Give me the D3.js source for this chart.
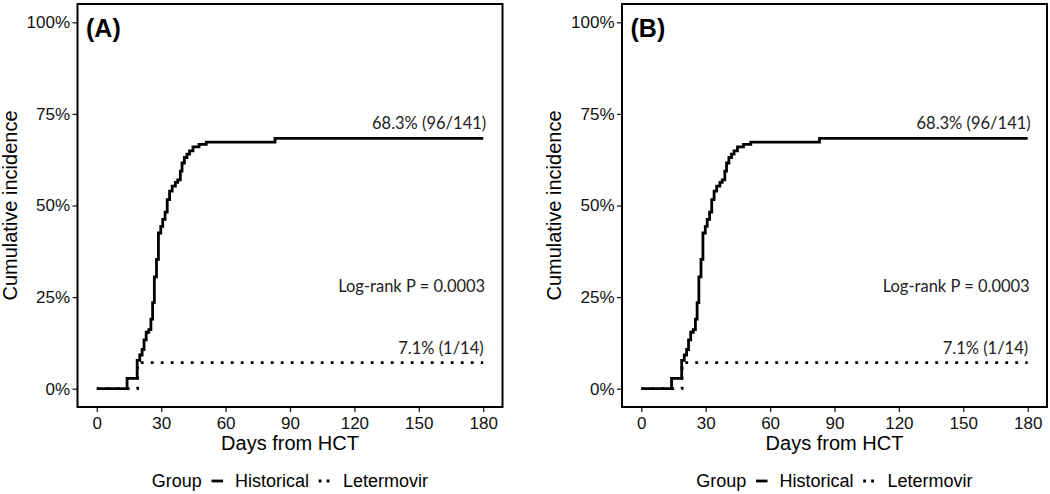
<!DOCTYPE html>
<html><head><meta charset="utf-8">
<script src="https://cdn.jsdelivr.net/npm/d3@7/dist/d3.min.js"></script>
<style>body{margin:0;background:#fff}svg{display:block}</style>
</head><body><svg id="c" width="1050" height="494"></svg>
<script>
// ---- data ----
const panels = ["(A)", "(B)"];
const xTicks = [0, 30, 60, 90, 120, 150, 180];
const yTicks = [0, 0.25, 0.5, 0.75, 1];
const yTickLabels = ["0%", "25%", "50%", "75%", "100%"];
const historicalDays = [0, 14.1, 18.8, 20.0, 21.1, 22.0, 23.0, 24.2, 25.2, 26.0, 26.8, 27.8, 28.7, 29.8, 30.7, 31.8, 32.8, 33.9, 35.1, 36.6, 37.7, 38.9, 39.7, 40.8, 42.0, 43.2, 44.8, 47.6, 51.0, 83.0, 180];
const historicalVals = [0, 0.028, 0.077, 0.092, 0.107, 0.133, 0.154, 0.161, 0.19, 0.235, 0.305, 0.353, 0.425, 0.443, 0.462, 0.482, 0.516, 0.539, 0.553, 0.563, 0.570, 0.594, 0.616, 0.631, 0.640, 0.649, 0.660, 0.667, 0.673, 0.683, 0.683];
const letermovirDays = [0, 19, 180];
const letermovirVals = [0, 0.071, 0.071];
const groups = ["Historical", "Letermovir"];
const histLabel = "68.3% (96/141)";
const letLabel = "7.1% (1/14)";
const pLabel = "Log-rank P = 0.0003";

const svg = d3.select("#c");
const sans = "'Liberation Sans', Arial, Helvetica, sans-serif";
const annoFont = "Lato, 'Open Sans', sans-serif";

function drawPanel(idx, dx) {
  const g = svg.append("g").attr("transform", `translate(${dx},0)`);
  const x = d3.scaleLinear().domain([-9, 189]).range([77.5, 502.5]);
  const y = d3.scaleLinear().domain([-0.05, 1.05]).range([407, 4]);

  // axes
  const ax = g.append("g").attr("transform", "translate(0,407)")
    .call(d3.axisBottom(x).tickValues(xTicks).tickSize(5).tickPadding(5));
  const ay = g.append("g").attr("transform", "translate(77.5,0)")
    .call(d3.axisLeft(y).tickValues(yTicks).tickFormat((d, i) => yTickLabels[i]).tickSize(5).tickPadding(2.5));
  [ax, ay].forEach(a => {
    a.select(".domain").remove();
    a.selectAll(".tick line").attr("stroke", "#222").attr("stroke-width", 1.3);
    a.selectAll(".tick text").attr("fill", "#111").style("font-family", sans).style("font-size", "17px");
  });

  // lines
  const line = d3.line().x(d => x(d[0])).y(d => y(d[1])).curve(d3.curveStepAfter);
  const hist = historicalDays.map((d, i) => [d, historicalVals[i]]);
  const lete = letermovirDays.map((d, i) => [d, letermovirVals[i]]);
  g.append("path").attr("d", line(lete)).attr("fill", "none").attr("stroke", "#000")
    .attr("stroke-width", 2.8).attr("stroke-dasharray", "2.8,7.2");
  g.append("path").attr("d", line(hist)).attr("fill", "none").attr("stroke", "#000")
    .attr("stroke-width", 2.8);

  // border
  g.append("rect").attr("x", 77.5).attr("y", 4).attr("width", 425).attr("height", 403)
    .attr("fill", "none").attr("stroke", "#000").attr("stroke-width", 2);

  // annotations
  g.append("text").attr("x", x(180) + 3).attr("y", y(0.683) - 9.5).attr("text-anchor", "end")
    .style("font-family", annoFont).style("font-size", "16.5px").attr("fill", "#222").text(histLabel);
  g.append("text").attr("x", x(180) + 0.5).attr("y", y(0.071) - 9).attr("text-anchor", "end")
    .style("font-family", annoFont).style("font-size", "16.5px").attr("fill", "#222").text(letLabel);
  g.append("text").attr("x", x(180) + 2).attr("y", y(0.265)).attr("text-anchor", "end")
    .style("font-family", annoFont).style("font-size", "16.5px").attr("fill", "#222").text(pLabel);

  // panel label
  g.append("text").attr("x", 86).attr("y", 36.5).style("font-family", sans)
    .style("font-size", "25px").style("font-weight", "bold").attr("fill", "#000").text(panels[idx]);

  // axis titles
  g.append("text").attr("x", 290).attr("y", 450).attr("text-anchor", "middle")
    .style("font-family", sans).style("font-size", "20px").attr("fill", "#000").text("Days from HCT");
  g.append("text").attr("transform", "translate(16.5,205.5) rotate(-90)").attr("text-anchor", "middle")
    .style("font-family", sans).style("font-size", "20px").attr("fill", "#000").text("Cumulative incidence");

  // legend
  const lg = g.append("g");
  lg.append("text").attr("x", 151.7).attr("y", 486.5).style("font-family", sans).style("font-size", "18px")
    .attr("fill", "#000").text("Group");
  lg.append("line").attr("x1", 211.5).attr("x2", 223).attr("y1", 481).attr("y2", 481)
    .attr("stroke", "#000").attr("stroke-width", 2.8);
  lg.append("text").attr("x", 235).attr("y", 486.5).style("font-family", sans).style("font-size", "18px")
    .attr("fill", "#000").text(groups[0]);
  lg.append("line").attr("x1", 318.7).attr("x2", 331).attr("y1", 481).attr("y2", 481)
    .attr("stroke", "#000").attr("stroke-width", 2.8).attr("stroke-dasharray", "2.8,5.2");
  lg.append("text").attr("x", 343).attr("y", 486.5).style("font-family", sans).style("font-size", "18px")
    .attr("fill", "#000").text(groups[1]);
}

drawPanel(0, 0);
drawPanel(1, 544.5);
</script>
</body></html>
